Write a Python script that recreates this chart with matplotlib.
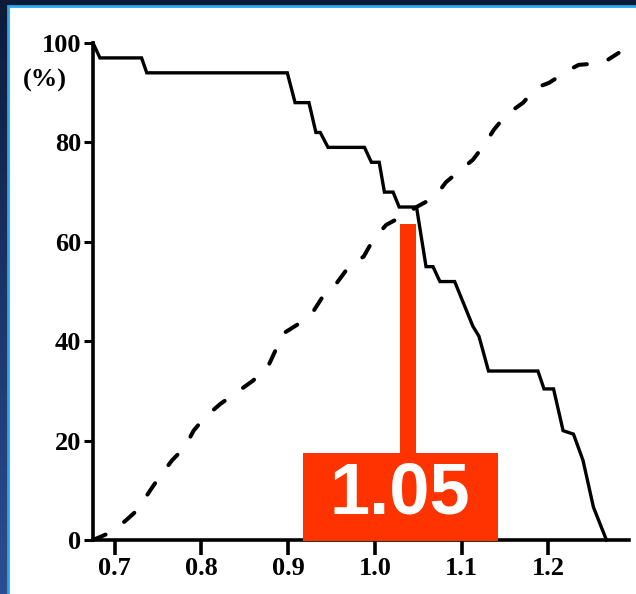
import numpy as np
import matplotlib
matplotlib.use('Agg')
import matplotlib.pyplot as plt
import matplotlib.patches as patches
from matplotlib.colors import LinearSegmentedColormap

# Curve values (x = ratio, y = %)
falling_x = [0.675, 0.683, 0.731, 0.737, 0.899, 0.908, 0.924, 0.932, 0.937, 0.946,
             0.988, 0.996, 1.005, 1.011, 1.021, 1.028, 1.048, 1.059, 1.067, 1.075,
             1.092, 1.113, 1.120, 1.131, 1.188, 1.195, 1.206, 1.217, 1.229, 1.240,
             1.252, 1.267]
falling_y = [100, 97, 97, 94, 94, 88, 88, 82, 82, 79,
             79, 76, 76, 70, 70, 67, 67, 55, 55, 52,
             52, 43, 41, 34, 34, 30.4, 30.4, 22, 21.3, 16,
             6.6, 0]

rising_x = [0.675, 0.695, 0.712, 0.726, 0.741, 0.750, 0.766, 0.781, 0.791, 0.804,
            0.822, 0.839, 0.859, 0.876, 0.885, 0.893, 0.914, 0.929, 0.940, 0.953,
            0.973, 0.987, 0.998, 1.013, 1.030, 1.048, 1.069, 1.082, 1.099, 1.113,
            1.126, 1.137, 1.151, 1.171, 1.186, 1.201, 1.224, 1.235, 1.263, 1.281]
rising_y = [0, 1.5, 3.8, 6, 10, 12.3, 16, 18.7, 22, 24.7,
            27.4, 29.5, 32, 34.6, 38, 41.4, 43.7, 46, 49, 51,
            55.7, 57, 60.4, 63.4, 65, 67, 69, 72, 74.5, 76.5,
            79.5, 82.5, 85.5, 88, 91, 92, 94.6, 95.6, 96, 98]

x_ticks = [0.7, 0.8, 0.9, 1.0, 1.1, 1.2]
y_ticks = [0, 20, 40, 60, 80, 100]
cutoff_label = '1.05'

RED = '#ff3300'
W, H = 636, 594

fig = plt.figure(figsize=(W / 100, H / 100), dpi=100)

# dark blue slide background with a soft vertical gradient
bg = fig.add_axes([0, 0, 1, 1], zorder=-10)
bg.axis('off')
cmap = LinearSegmentedColormap.from_list('slide', ['#0d1a39', '#1c3468', '#2c4e92'])
bg.imshow(np.linspace(0, 1, 256).reshape(-1, 1), aspect='auto', cmap=cmap,
          extent=[0, 1, 0, 1], origin='upper')
bg.set_xlim(0, 1)
bg.set_ylim(0, 1)
bg.add_patch(patches.Rectangle((8 / W, -0.01), 1.0, 1 - 6 / H + 0.01,
                               facecolor='white', edgecolor='#2aa8ea', linewidth=2))

ax = fig.add_axes([93 / W, 1 - 540 / H, (629 - 93) / W, (540 - 43) / H])
ax.set_facecolor('none')

ax.plot(falling_x, falling_y, color='black', lw=2.4, clip_on=False,
        solid_joinstyle='miter', zorder=3)
ax.plot(rising_x, rising_y, color='black', lw=2.9, clip_on=False,
        dashes=(3.4, 5.6), dash_capstyle='round', zorder=3)

ax.set_xlim(0.675, 1.293)
ax.set_ylim(0, 100)

for side in ['top', 'right']:
    ax.spines[side].set_visible(False)
for side in ['left', 'bottom']:
    ax.spines[side].set_linewidth(2.6)

serif = {'family': 'Liberation Serif', 'weight': 'bold', 'size': 19}
ax.set_xticks(x_ticks)
ax.set_xticklabels([f'{t:.1f}' for t in x_ticks], fontdict=serif)
ax.set_yticks(y_ticks)
ax.set_yticklabels([str(t) for t in y_ticks], fontdict=serif)
ax.tick_params(axis='x', length=11, width=2.6, pad=1.5)
ax.tick_params(axis='y', length=6.5, width=2.2, pad=2)

fig.text(45 / W, 1 - 80 / H, '(%)', ha='center', va='center', **serif)

# red cutoff marker
ax.add_patch(patches.Rectangle((1.0385 - 0.0092, 17.5), 0.0184, 46.1,
                               facecolor=RED, edgecolor='none', clip_on=False, zorder=4))
ax.add_patch(patches.Rectangle((0.917, -0.2), 0.225, 17.7,
                               facecolor=RED, edgecolor='none', clip_on=False, zorder=4))
ax.text(1.029, 9.1, cutoff_label, color='white', ha='center', va='center',
        family='Liberation Sans', weight='bold', fontsize=52, zorder=5)

fig.savefig('out.png', dpi=100)
